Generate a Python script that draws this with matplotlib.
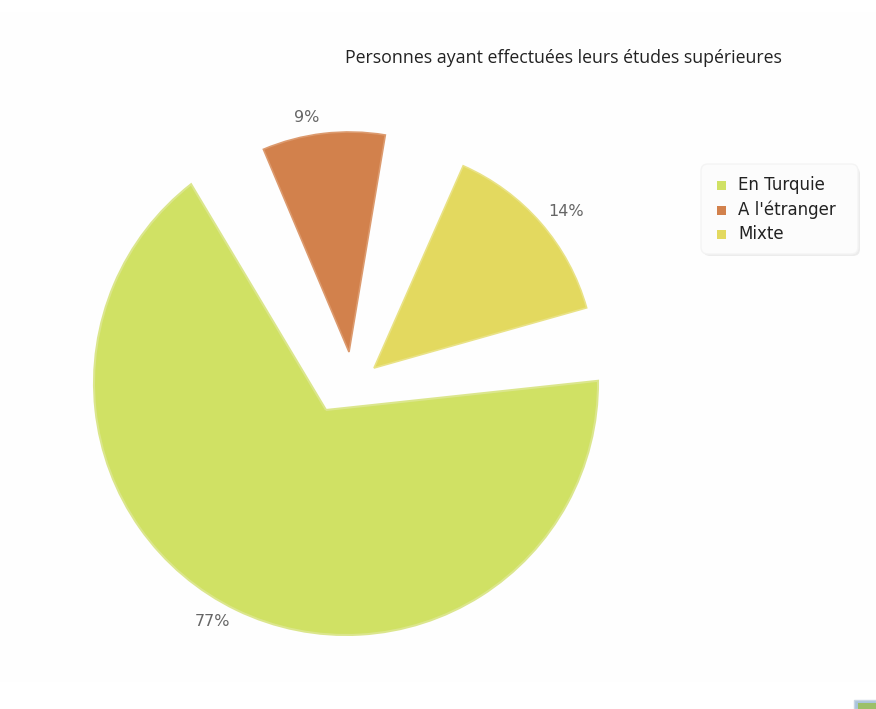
import numpy as np
import matplotlib
matplotlib.use('Agg')
from matplotlib import pyplot as plt
from matplotlib.patches import PathPatch, Wedge, FancyBboxPatch, Rectangle
from matplotlib.path import Path

categories = ['En Turquie', "A l'étranger", 'Mixte']
values = [77, 9, 14]
colors = ['#d0e164', '#d2814c', '#e3d95f']
title = 'Personnes ayant effectuées leurs études supérieures'

H = 709


def py(y):
    # the picture was measured with y going down
    return H - y


fig = plt.figure(figsize=(8.76, 7.09), dpi=100, facecolor='white')
ax = fig.add_axes([0, 0, 1, 1])
ax.set_xlim(0, 876)
ax.set_ylim(0, H)
ax.axis('off')

# faint panel behind the chart
ax.add_patch(Rectangle((0, py(682)), 876, 670, fc='#fefefe', ec='none', zorder=0))

# main slice: arc around one centre, tip pulled down-left of it
arc_end = 360.5
arc_sweep = values[0] * 3.6 * 0.839
arc = Path.arc(arc_end - arc_sweep, arc_end)
verts = arc.vertices * 252 + [346, py(383)]
verts = np.vstack([[326, py(410)], verts, [326, py(410)]])
codes = np.concatenate([[Path.MOVETO], [Path.LINETO], arc.codes[1:], [Path.LINETO]])
ax.add_patch(PathPatch(Path(verts, codes), fc=colors[0], ec='#dbe68c', lw=1.5, zorder=2))

# the two small slices keep their real sweep
ax.add_patch(Wedge((349, py(352)), 220, 80.5, 80.5 + values[1] * 3.6,
                   fc=colors[1], ec='#dc9a6e', lw=1.2, zorder=2))
ax.add_patch(Wedge((374, py(368)), 221, 66.2 - values[2] * 3.6, 66.2,
                   fc=colors[2], ec='#e9e285', lw=1.2, zorder=2))

# percent labels
label_pos = [(212, 622), (307, 118), (566, 212)]
for v, (x, y) in zip(values, label_pos):
    ax.text(x, py(y), '%d%%' % v, ha='center', va='center', fontsize=11.5,
            color='#666666', zorder=3)

ax.text(345, py(58), title, ha='left', va='center', fontsize=12.8,
        family='Open Sans', color='#222222', zorder=3)

# legend box
ax.add_patch(FancyBboxPatch((703, py(256)), 157, 89, boxstyle='round,pad=0,rounding_size=7',
                            fc='#ececec', ec='none', zorder=3))
ax.add_patch(FancyBboxPatch((701, py(254)), 157, 90, boxstyle='round,pad=0,rounding_size=7',
                            fc='#fcfcfc', ec='#f4f4f4', lw=1, zorder=4))
legend_y = [185, 210, 234]
for name, c, y in zip(categories, colors, legend_y):
    ax.add_patch(Rectangle((717, py(y) - 4.5), 9, 9, fc=c, ec='none', zorder=5))
    ax.text(738, py(y), name, ha='left', va='center', fontsize=12,
            color='#222222', zorder=5)

# little image icon cut off in the corner
ax.add_patch(Rectangle((854, 0), 22, py(700), fc='#a9c4dc', ec='#c8d6e4', lw=1, zorder=2))
ax.add_patch(Rectangle((858, 0), 18, py(703), fc='#9cc069', ec='none', zorder=3))

fig.savefig('out.png', dpi=100, facecolor='white')
